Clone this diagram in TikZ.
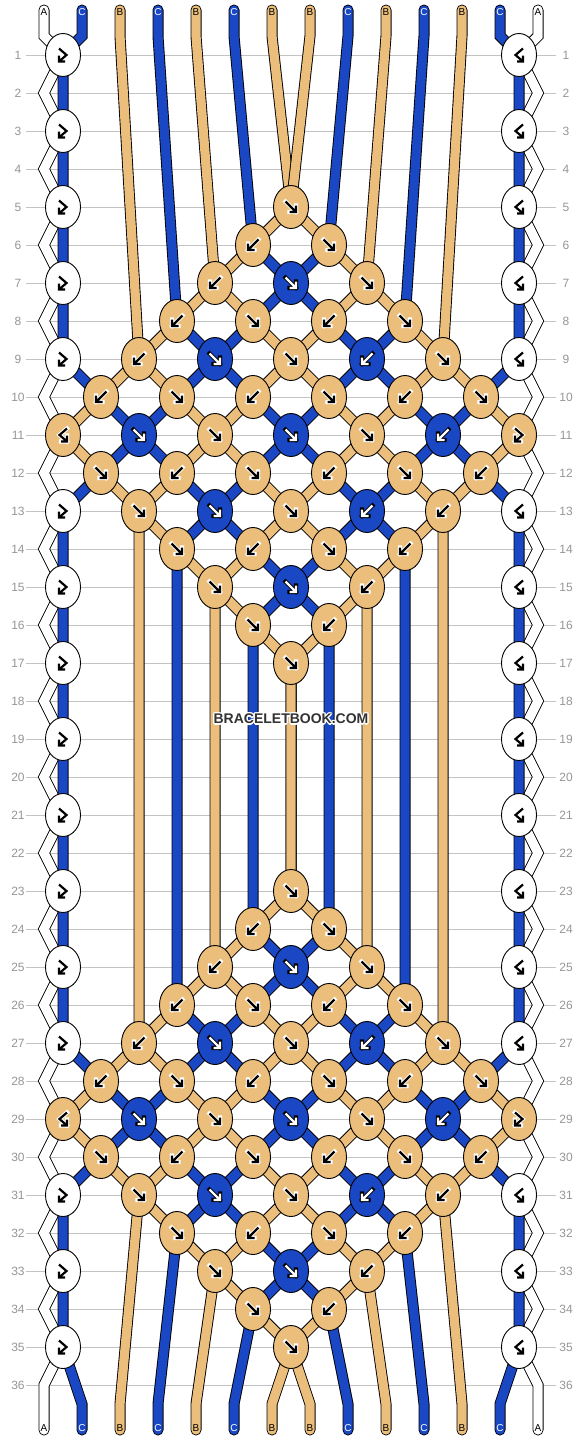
\documentclass[tikz,border=0pt]{standalone}
\usepackage{fontspec}
\setmainfont{Liberation Sans}
\usetikzlibrary{shapes.geometric}
\pgfdeclarelayer{gridlayer}
\pgfdeclarelayer{strandlayer}
\pgfsetlayers{gridlayer,strandlayer,main}
\definecolor{korange}{RGB}{236,190,124}
\definecolor{kblue}{RGB}{26,72,196}
\definecolor{gridc}{RGB}{195,195,195}
\definecolor{numc}{RGB}{150,150,150}
\definecolor{wmc}{RGB}{50,50,50}
\tikzset{
  knot/.style={ellipse, draw=black, line width=0.9pt, minimum width=35pt, minimum height=43pt, inner sep=0pt},
  strand/.style={draw=black, line width=0.9pt, double distance=9.2pt, line join=miter, line cap=round},
  gridline/.style={draw=gridc, line width=1pt},
  rowlbl/.style={font=\fontsize{12}{12}\selectfont, text=numc, inner sep=0pt},
  endlbl/.style={font=\fontsize{10}{10}\selectfont, inner sep=0pt},
  wmark/.style={font=\fontsize{14}{14}\selectfont\bfseries, inner sep=0pt},
}
\newcommand\arrowshapeF[2]{%
  \draw[#1, line width=4.2pt, line cap=rect] (-5.5,-5.5)--(5,5) (5,-1.5)--(5,5)--(-1.5,5);
  \draw[#2, line width=2.2pt] (-5.5,-5.5)--(5,5) (5,-1.5)--(5,5)--(-1.5,5);}
\newcommand\arrowshapeB[2]{%
  \draw[#1, line width=4.2pt, line cap=rect] (5.5,-5.5)--(-5,5) (-5,-1.5)--(-5,5)--(1.5,5);
  \draw[#2, line width=2.2pt] (5.5,-5.5)--(-5,5) (-5,-1.5)--(-5,5)--(1.5,5);}
\newcommand\arrowshapeFB[2]{%
  \draw[#1, line width=4.2pt, line cap=rect] (-4,-6.5)--(3.5,0)--(-4,6.5) (-4,0.5)--(-4,6.5)--(2,6.5);
  \draw[#2, line width=2.2pt] (-4,-6.5)--(3.5,0)--(-4,6.5) (-4,0.5)--(-4,6.5)--(2,6.5);}
\newcommand\arrowshapeBF[2]{%
  \draw[#1, line width=4.2pt, line cap=rect] (4,-6.5)--(-3.5,0)--(4,6.5) (4,0.5)--(4,6.5)--(-2,6.5);
  \draw[#2, line width=2.2pt] (4,-6.5)--(-3.5,0)--(4,6.5) (4,0.5)--(4,6.5)--(-2,6.5);}
\newcommand\placeknot[6]{%
  \node[knot, fill=#3] (k#1p#2) at ({63+38*#2},{17+38*#1}) {};
  \begin{scope}[shift={(k#1p#2.center)}]
    \csname arrowshape#6\endcsname{#5}{#4}
  \end{scope}}
\newcommand\kno[3]{\placeknot{#1}{#2}{korange}{black}{white}{#3}}
\newcommand\knw[3]{\placeknot{#1}{#2}{white}{black}{white}{#3}}
\newcommand\knb[3]{\placeknot{#1}{#2}{kblue}{white}{black}{#3}}
\begin{document}
\begin{tikzpicture}[x=1pt,y=-1pt]
\useasboundingbox (0,0) rectangle (582,1440);
\begin{pgfonlayer}{gridlayer}
  \fill[white] (0,0) rectangle (582,1440);
  \foreach \r in {1,...,36} {\draw[gridline] (26,{17+38*\r}) -- (556,{17+38*\r});}
\end{pgfonlayer}
% row numbers
\foreach \r in {1,...,36} {
  \node[rowlbl] (rl\r) at (18,{17+38*\r}) {\r};
  \node[rowlbl] (rr\r) at (566,{17+38*\r}) {\r};
}
% strand end coordinates
\foreach \i in {0,...,13} {
  \coordinate (t\i) at ({44+38*\i},10);
  \coordinate (tb\i) at ({44+38*\i},36);
  \coordinate (bb\i) at ({44+38*\i},1404);
  \coordinate (b\i) at ({44+38*\i},1430);
}
\foreach \r in {1,3,...,35} {
  \coordinate (zl\r) at (44,{17+38*(\r+1)});
  \coordinate (zr\r) at (538,{17+38*(\r+1)});
}
% edge knots
\foreach \r in {1,3,5,7,9,13,15,17,19,21,23,25,27,31,33,35} {
  \knw{\r}{0}{FB}
  \knw{\r}{12}{BF}
}
\foreach \r in {11,29} {
  \kno{\r}{0}{BF}
  \kno{\r}{12}{FB}
}
% diamond knots
\foreach \o in {0,18} {
  \foreach \r/\p/\c/\t in {5/6/o/F,
    6/5/o/B, 6/7/o/F,
    7/4/o/B, 7/6/b/F, 7/8/o/F,
    8/3/o/B, 8/5/o/F, 8/7/o/B, 8/9/o/F,
    9/2/o/B, 9/4/b/F, 9/6/o/F, 9/8/b/B, 9/10/o/F,
    10/1/o/B, 10/3/o/F, 10/5/o/B, 10/7/o/F, 10/9/o/B, 10/11/o/F,
    11/2/b/F, 11/4/o/F, 11/6/b/F, 11/8/o/F, 11/10/b/B,
    12/1/o/F, 12/3/o/B, 12/5/o/F, 12/7/o/B, 12/9/o/F, 12/11/o/B,
    13/2/o/F, 13/4/b/F, 13/6/o/F, 13/8/b/B, 13/10/o/B,
    14/3/o/F, 14/5/o/B, 14/7/o/F, 14/9/o/B,
    15/4/o/F, 15/6/b/F, 15/8/o/B,
    16/5/o/F, 16/7/o/B,
    17/6/o/F} {
    \pgfmathtruncatemacro\rr{\r+\o}
    \csname kn\c\endcsname{\rr}{\p}{\t}
  }
}
% strands
\begin{pgfonlayer}{strandlayer}
\draw[strand, double=white] (t0) -- (tb0) \foreach \r in {1,3,...,35} { -- (k\r p0.center) -- (zl\r) } -- (b0);
\draw[strand, double=white] (t13) -- (tb13) \foreach \r in {1,3,...,35} { -- (k\r p12.center) -- (zr\r) } -- (b13);
\draw[strand, double=kblue] (t1)--(tb1)--(k1p0.center)--(k3p0.center)--(k5p0.center)--(k7p0.center)--(k9p0.center)--(k10p1.center)--(k11p2.center)--(k12p3.center)--(k13p4.center)--(k14p5.center)--(k15p6.center)--(k16p7.center)--(k24p7.center)--(k25p6.center)--(k26p5.center)--(k27p4.center)--(k28p3.center)--(k29p2.center)--(k30p1.center)--(k31p0.center)--(k33p0.center)--(k35p0.center)--(bb1)--(b1);
\draw[strand, double=korange] (t2)--(tb2)--(k9p2.center)--(k10p3.center)--(k11p4.center)--(k12p5.center)--(k13p6.center)--(k14p7.center)--(k15p8.center)--(k25p8.center)--(k26p7.center)--(k27p6.center)--(k28p5.center)--(k29p4.center)--(k30p3.center)--(k31p2.center)--(bb2)--(b2);
\draw[strand, double=kblue] (t3)--(tb3)--(k8p3.center)--(k9p4.center)--(k10p5.center)--(k11p6.center)--(k12p7.center)--(k13p8.center)--(k14p9.center)--(k26p9.center)--(k27p8.center)--(k28p7.center)--(k29p6.center)--(k30p5.center)--(k31p4.center)--(k32p3.center)--(bb3)--(b3);
\draw[strand, double=korange] (t4)--(tb4)--(k7p4.center)--(k8p5.center)--(k9p6.center)--(k10p7.center)--(k11p8.center)--(k12p9.center)--(k13p10.center)--(k27p10.center)--(k28p9.center)--(k29p8.center)--(k30p7.center)--(k31p6.center)--(k32p5.center)--(k33p4.center)--(bb4)--(b4);
\draw[strand, double=kblue] (t5)--(tb5)--(k6p5.center)--(k7p6.center)--(k8p7.center)--(k9p8.center)--(k10p9.center)--(k11p10.center)--(k12p11.center)--(k13p12.center)--(k15p12.center)--(k17p12.center)--(k19p12.center)--(k21p12.center)--(k23p12.center)--(k25p12.center)--(k27p12.center)--(k28p11.center)--(k29p10.center)--(k30p9.center)--(k31p8.center)--(k32p7.center)--(k33p6.center)--(k34p5.center)--(bb5)--(b5);
\draw[strand, double=korange] (t6)--(tb6)--(k5p6.center)--(k6p7.center)--(k7p8.center)--(k8p9.center)--(k9p10.center)--(k10p11.center)--(k11p12.center)--(k12p11.center)--(k13p10.center)--(k14p9.center)--(k15p8.center)--(k16p7.center)--(k17p6.center)--(k23p6.center)--(k24p7.center)--(k25p8.center)--(k26p9.center)--(k27p10.center)--(k28p11.center)--(k29p12.center)--(k30p11.center)--(k31p10.center)--(k32p9.center)--(k33p8.center)--(k34p7.center)--(k35p6.center)--(bb6)--(b6);
\draw[strand, double=korange] (t7)--(tb7)--(k5p6.center)--(k6p5.center)--(k7p4.center)--(k8p3.center)--(k9p2.center)--(k10p1.center)--(k11p0.center)--(k12p1.center)--(k13p2.center)--(k14p3.center)--(k15p4.center)--(k16p5.center)--(k17p6.center)--(k23p6.center)--(k24p5.center)--(k25p4.center)--(k26p3.center)--(k27p2.center)--(k28p1.center)--(k29p0.center)--(k30p1.center)--(k31p2.center)--(k32p3.center)--(k33p4.center)--(k34p5.center)--(k35p6.center)--(bb7)--(b7);
\draw[strand, double=kblue] (t8)--(tb8)--(k6p7.center)--(k7p6.center)--(k8p5.center)--(k9p4.center)--(k10p3.center)--(k11p2.center)--(k12p1.center)--(k13p0.center)--(k15p0.center)--(k17p0.center)--(k19p0.center)--(k21p0.center)--(k23p0.center)--(k25p0.center)--(k27p0.center)--(k28p1.center)--(k29p2.center)--(k30p3.center)--(k31p4.center)--(k32p5.center)--(k33p6.center)--(k34p7.center)--(bb8)--(b8);
\draw[strand, double=korange] (t9)--(tb9)--(k7p8.center)--(k8p7.center)--(k9p6.center)--(k10p5.center)--(k11p4.center)--(k12p3.center)--(k13p2.center)--(k27p2.center)--(k28p3.center)--(k29p4.center)--(k30p5.center)--(k31p6.center)--(k32p7.center)--(k33p8.center)--(bb9)--(b9);
\draw[strand, double=kblue] (t10)--(tb10)--(k8p9.center)--(k9p8.center)--(k10p7.center)--(k11p6.center)--(k12p5.center)--(k13p4.center)--(k14p3.center)--(k26p3.center)--(k27p4.center)--(k28p5.center)--(k29p6.center)--(k30p7.center)--(k31p8.center)--(k32p9.center)--(bb10)--(b10);
\draw[strand, double=korange] (t11)--(tb11)--(k9p10.center)--(k10p9.center)--(k11p8.center)--(k12p7.center)--(k13p6.center)--(k14p5.center)--(k15p4.center)--(k25p4.center)--(k26p5.center)--(k27p6.center)--(k28p7.center)--(k29p8.center)--(k30p9.center)--(k31p10.center)--(bb11)--(b11);
\draw[strand, double=kblue] (t12)--(tb12)--(k1p12.center)--(k3p12.center)--(k5p12.center)--(k7p12.center)--(k9p12.center)--(k10p11.center)--(k11p10.center)--(k12p9.center)--(k13p8.center)--(k14p7.center)--(k15p6.center)--(k16p5.center)--(k24p5.center)--(k25p6.center)--(k26p7.center)--(k27p8.center)--(k28p9.center)--(k29p10.center)--(k30p11.center)--(k31p12.center)--(k33p12.center)--(k35p12.center)--(bb12)--(b12);
\end{pgfonlayer}
% strand end labels
\foreach \i/\l/\c in {0/A/black,1/C/white,2/B/black,3/C/white,4/B/black,5/C/white,6/B/black,7/B/black,8/C/white,9/B/black,10/C/white,11/B/black,12/C/white,13/A/black} {
  \node[endlbl, text=\c] (lt\i) at ({44+38*\i},12.5) {\l};
  \node[endlbl, text=\c] (lb\i) at ({44+38*\i},1428.5) {\l};
}
% watermark
\foreach \a [count=\n] in {0,45,...,315} {
  \node[wmark, text=white] (wmh\n) at ({291+1.3*cos(\a)},{719+1.3*sin(\a)}) {BRACELETBOOK.COM};
}
\node[wmark, text=wmc] (wm) at (291,719) {BRACELETBOOK.COM};
\end{tikzpicture}
\end{document}
